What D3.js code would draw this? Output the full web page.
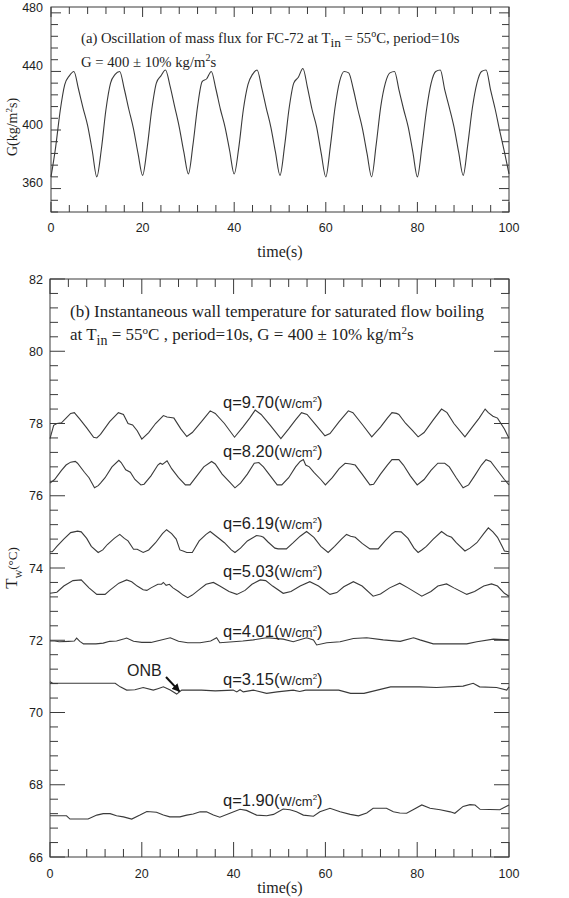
<!DOCTYPE html>
<html>
<head>
<meta charset="utf-8">
<script src="https://cdn.jsdelivr.net/npm/d3@7"></script>
<style>
body { margin: 0; background: #fff; }
text { fill: #1e1e1e; }
.serif { font-family: "Liberation Serif", "Times New Roman", serif; }
.sans { font-family: "Liberation Sans", Arial, sans-serif; }
</style>
</head>
<body>
<div id="chart"></div>
<script>
// ---- data ----
// (a) mass flux, sampled every 1 s
const gTime = d3.range(0, 101);
const gFlux = [
  364, 384, 409, 427, 433, 436, 424, 411, 399, 382,
  364, 383, 410, 428, 434, 436, 424, 410, 397, 380,
  365, 384, 410, 428, 433, 437, 426, 412, 398, 381,
  366, 386, 412, 429, 431, 436, 424, 410, 398, 382,
  366, 384, 410, 427, 434, 437, 425, 411, 398, 381,
  365, 385, 411, 428, 432, 438, 425, 410, 398, 380,
  364, 385, 411, 429, 436, 435, 424, 410, 397, 380,
  364, 386, 412, 428, 435, 436, 423, 410, 398, 381,
  364, 385, 410, 428, 436, 437, 423, 411, 398, 381,
  365, 386, 411, 428, 436, 437, 423, 410, 395, 381,
  366
];

// (b) wall temperature, [time s, Tw °C]
const q970 = [[0,77.58],[0.8,77.95],[1.5,78.0],[2.5,78.02],[3.5,78.15],[4.5,78.28],[5.3,78.3],[6.5,78.12],[8,77.88],[9.5,77.62],[10.2,77.6],[11,77.7],[13,78.05],[14.9,78.3],[16,78.25],[17,78.0],[18,77.96],[19,77.8],[20,77.57],[21.5,77.75],[23,78.0],[24.7,78.22],[25.5,78.18],[27,78.15],[28.5,77.85],[29.8,77.64],[31,77.75],[33,78.05],[34.9,78.35],[36,78.28],[38,78.0],[40.2,77.62],[42,77.9],[43.5,78.15],[44.7,78.37],[46,78.25],[48,77.95],[50.3,77.58],[52,77.85],[53.5,78.1],[54.8,78.3],[56,78.25],[58,77.95],[59.9,77.66],[61,77.72],[63,78.05],[65,78.35],[66,78.3],[68,77.98],[70.1,77.63],[72,77.9],[73.5,78.15],[74.5,78.3],[75.5,78.28],[76,78.25],[77.5,78.0],[79,77.8],[80.2,77.63],[81.5,77.75],[83.5,78.1],[85.3,78.4],[86.5,78.3],[88,78.0],[90.4,77.63],[92,77.9],[93.5,78.15],[94.8,78.4],[95.5,78.3],[96.5,78.2],[97.5,78.15],[99,77.85],[100,77.59]];
const q820 = [[0,76.35],[1,76.45],[2.5,76.7],[3.5,76.85],[4.5,76.93],[5.5,76.95],[6,76.9],[7.5,76.65],[8.5,76.5],[9.7,76.22],[10.5,76.28],[11,76.35],[12,76.5],[13.5,76.8],[15,76.98],[15.5,76.92],[16.5,76.72],[17.5,76.65],[18.5,76.45],[19.8,76.3],[20.5,76.32],[22,76.55],[23.5,76.85],[24,76.9],[24.5,76.87],[25.5,76.97],[26.5,76.75],[28,76.5],[29.5,76.3],[30.5,76.3],[32,76.55],[33.5,76.8],[35.2,76.95],[36,76.88],[37.5,76.6],[39,76.4],[40.3,76.22],[41.5,76.35],[43,76.6],[44.5,76.9],[45.5,76.92],[46.5,76.8],[48,76.55],[49.5,76.3],[50.5,76.3],[52,76.5],[53.5,76.8],[54.5,76.95],[55.2,77.0],[55.7,76.85],[56.5,76.8],[57.5,76.65],[59,76.45],[60,76.3],[61.5,76.5],[63,76.75],[64.3,76.9],[65.5,76.88],[66.5,76.85],[68,76.6],[69.7,76.3],[70.5,76.32],[72,76.6],[73.5,76.85],[74.5,77.0],[76,77.0],[77,76.85],[78.5,76.55],[80,76.3],[81.5,76.45],[83,76.7],[84.5,76.9],[86,76.9],[87,76.8],[88.5,76.5],[90,76.22],[91.2,76.3],[92.5,76.55],[94,76.85],[95,77.0],[96,76.95],[97.5,76.7],[99,76.45],[100,76.3]];
const q619 = [[0,74.45],[0.5,74.45],[1.5,74.6],[3,74.8],[4.5,74.98],[6,75.02],[6.8,75.0],[8,74.82],[9,74.6],[10.5,74.43],[11.5,74.5],[12.5,74.65],[14,74.82],[15.2,74.93],[16.2,74.82],[17,74.75],[18.2,74.52],[19,74.52],[20.3,74.43],[21.5,74.5],[23,74.7],[24.5,74.95],[25.4,75.06],[26.5,74.95],[27.5,74.8],[28.3,74.5],[29,74.47],[29.8,74.43],[31,74.43],[32.5,74.75],[34,74.93],[34.9,75.01],[36.5,74.85],[38,74.7],[39.5,74.5],[40.3,74.43],[41.5,74.55],[43,74.75],[45,74.9],[46,74.88],[46.5,74.85],[47.5,74.72],[49,74.55],[49.7,74.53],[51.5,74.53],[53,74.7],[54.5,74.88],[55.9,75.01],[57.5,74.85],[59,74.6],[60.6,74.43],[62,74.6],[63.5,74.8],[64.6,74.93],[65.5,74.88],[66.5,74.85],[68,74.68],[69.7,74.53],[71.5,74.53],[73,74.75],[74.5,74.95],[75.2,75.01],[76.5,75.0],[78,74.82],[79.3,74.55],[80.2,74.43],[81,74.5],[82,74.6],[83.5,74.8],[85.3,75.01],[86.5,74.9],[87.5,74.85],[88.5,74.7],[90.4,74.47],[91.5,74.55],[93,74.7],[94.5,74.95],[95.5,75.11],[96.5,75.0],[97.5,74.85],[98.5,74.6],[99,74.47],[100,74.45]];
const q503 = [[0,73.3],[1.5,73.33],[3,73.5],[5,73.65],[6.8,73.67],[8.5,73.45],[10.2,73.27],[12,73.27],[13,73.38],[15,73.58],[16.7,73.67],[17.8,73.62],[19,73.5],[20.3,73.4],[21.1,73.38],[22,73.45],[23.5,73.55],[24.3,73.55],[24.7,73.6],[25.3,73.52],[26,73.55],[26.8,73.45],[28,73.35],[29,73.25],[30,73.18],[31,73.25],[32.5,73.4],[34,73.55],[35.6,73.6],[37,73.5],[39,73.35],[40.7,73.27],[42.5,73.38],[44,73.55],[45.8,73.67],[47,73.65],[48.5,73.5],[50.8,73.3],[52.5,73.35],[54.5,73.5],[56.6,73.62],[58.5,73.5],[61,73.27],[62.5,73.32],[64,73.48],[66.1,73.62],[68,73.5],[70.4,73.22],[72,73.28],[74,73.45],[76.2,73.58],[78,73.45],[81,73.22],[83,73.35],[84.5,73.5],[86.4,73.56],[88,73.45],[90.8,73.27],[92.5,73.35],[94.5,73.5],[96.2,73.56],[97.5,73.5],[99,73.3],[100,73.22]];
const q401 = [[0,71.98],[1,71.98],[2,71.96],[4,71.97],[5.3,71.98],[5.8,72.06],[6.5,71.97],[7.3,71.9],[10,71.9],[11.6,71.92],[13,71.97],[14.5,71.98],[16.2,72.04],[16.7,72.06],[18.2,71.97],[20,71.94],[22,71.94],[24,72.0],[26.2,72.07],[28,71.97],[30,71.93],[32.7,71.93],[35,71.98],[35.6,72.02],[36.3,72.07],[37,71.93],[39.9,71.96],[42,71.98],[44.3,72.01],[47.2,72.07],[50.8,72.03],[53,71.96],[55.9,72.07],[57.4,72.01],[58.1,71.87],[60.3,71.93],[63.2,71.96],[66.1,72.05],[69,72.07],[72.6,72.01],[76.3,71.97],[79.2,72.07],[80.6,72.01],[83.5,71.9],[90.8,71.9],[93,71.96],[96.6,72.03],[100,72.01]];
const q315 = [[0,70.85],[0.6,70.81],[14.2,70.81],[15.3,70.71],[16.7,70.62],[18.5,70.63],[20.3,70.69],[22.5,70.62],[23.5,70.66],[24.7,70.71],[26.2,70.62],[27.6,70.51],[28.7,70.62],[33,70.62],[36,70.6],[39.9,70.62],[40.7,70.57],[41.4,70.63],[42.1,70.57],[44.3,70.62],[47.2,70.53],[49.5,70.57],[53,70.62],[54.4,70.58],[55.7,70.62],[62.9,70.62],[65.5,70.53],[68.4,70.53],[71.3,70.62],[74.2,70.71],[80.6,70.71],[84.2,70.69],[90,70.73],[92.2,70.81],[93.6,70.71],[97.3,70.69],[99.5,70.62],[100,70.71]];
const q190 = [[0,67.14],[3.6,67.14],[4.35,67.05],[8.3,67.05],[10.2,67.16],[11.6,67.2],[13.1,67.2],[14.5,67.14],[16,67.11],[17.8,67.05],[19.6,67.16],[21.1,67.26],[23.2,67.24],[24.7,67.16],[26.1,67.11],[28.3,67.11],[29.8,67.16],[31.2,67.19],[32.7,67.25],[34.1,67.25],[35.6,67.16],[37,67.1],[39.2,67.21],[41.4,67.32],[42.8,67.29],[45,67.16],[47.2,67.14],[48.7,67.18],[50.8,67.33],[52.3,67.31],[53.7,67.25],[55.2,67.16],[57.4,67.13],[58.8,67.25],[61,67.35],[63.2,67.25],[65.4,67.18],[67.2,67.14],[69,67.22],[70.4,67.35],[73.3,67.35],[74.8,67.25],[76.2,67.22],[77.7,67.21],[79.1,67.31],[81,67.44],[82.8,67.35],[85,67.31],[87.2,67.25],[88.2,67.21],[90,67.4],[91.5,67.45],[92.6,67.44],[93.7,67.32],[98,67.31],[100,67.44]];

const twSeries = [q970, q820, q619, q503, q401, q315, q190];
const qLabels = ["9.70", "8.20", "6.19", "5.03", "4.01", "3.15", "1.90"];
const qLabelAt = [78.43, 77.07, 75.08, 73.75, 72.09, 70.76, 67.41]; // label baseline, in °C

const gTicks = [360, 400, 440, 480];
const twTicks = [66, 68, 70, 72, 74, 76, 78, 80, 82];
const timeTicks = [0, 20, 40, 60, 80, 100];

// ---- layout ----
const W = 569, H = 898;
const svg = d3.select("#chart").append("svg").attr("width", W).attr("height", H);

const xA = d3.scaleLinear().domain([0, 100]).range([51, 509]);
const yA = d3.scaleLinear().domain([340, 480]).range([212, 7]);
const xB = d3.scaleLinear().domain([0, 100]).range([50, 509]);
const yB = d3.scaleLinear().domain([66, 82]).range([857, 279]);

const ink = "#3a3a3a";

// frame with inward ticks on all four sides
function frame(x, y, xMinor, yMinor, xMajorEvery, yMajorEvery, minorLen, majorLen) {
  const g = svg.append("g").attr("stroke", ink).attr("stroke-width", 1);
  const [x0, x1] = x.range(), [y0, y1] = y.range();
  g.append("rect").attr("x", x0).attr("y", y1).attr("width", x1 - x0).attr("height", y0 - y1)
    .attr("fill", "none");
  xMinor.forEach((v, i) => {
    const len = i % xMajorEvery === 0 ? majorLen : minorLen;
    g.append("line").attr("x1", x(v)).attr("x2", x(v)).attr("y1", y0).attr("y2", y0 - len);
    g.append("line").attr("x1", x(v)).attr("x2", x(v)).attr("y1", y1).attr("y2", y1 + len);
  });
  yMinor.forEach((v, i) => {
    const len = i % yMajorEvery === 0 ? majorLen : minorLen;
    g.append("line").attr("y1", y(v)).attr("y2", y(v)).attr("x1", x0).attr("x2", x0 + len);
    g.append("line").attr("y1", y(v)).attr("y2", y(v)).attr("x1", x1).attr("x2", x1 - len);
  });
}

// text with sub / superscript pieces: [string, "sub"|"sup"|null, size]
function rich(sel, x, y, size, parts) {
  const t = sel.append("text").attr("x", x).attr("y", y).attr("font-size", size);
  let shift = 0;
  parts.forEach(([s, k, fs]) => {
    const target = k === "sub" ? size * 0.3 : k === "sup" ? -size * 0.38 : 0;
    t.append("tspan").attr("dy", target - shift).attr("font-size", fs || size).text(s);
    shift = target;
  });
  return t;
}

// ---- panel (a) ----
frame(xA, yA, d3.range(0, 101, 4), d3.range(340, 481, 8).reverse(), 5, 5, 7, 10);

svg.append("g").attr("class", "sans").attr("font-size", 12.5)
  .selectAll("text.xa").data(timeTicks).join("text")
  .attr("x", d => xA(d)).attr("y", 232).attr("text-anchor", "middle").text(d => d);
svg.append("g").attr("class", "sans").attr("font-size", 12.5)
  .selectAll("text.ya").data(gTicks).join("text")
  .attr("x", 43).attr("y", d => yA(d) + 4.5).attr("text-anchor", "end").text(d => d);

svg.append("path")
  .datum(gTime.map((t, i) => [t, gFlux[i]]))
  .attr("fill", "none").attr("stroke", ink).attr("stroke-width", 1.1)
  .attr("d", d3.line().curve(d3.curveMonotoneX).x(d => xA(d[0])).y(d => yA(d[1])));

const tA = svg.append("g").attr("class", "serif");
rich(tA, 81, 43, 14.7, [["(a) Oscillation of mass flux for FC-72 at T"], ["in", "sub", 13.5], [" = 55"], ["o", "sup", 10], ["C, period=10s"]]);
rich(tA, 81, 67, 14.7, [["G = 400 \u00b1 10% kg/m"], ["2", "sup", 10], ["s"]]);
tA.append("text").attr("x", 280).attr("y", 257).attr("font-size", 16).attr("text-anchor", "middle").text("time(s)");
const gl = tA.append("g").attr("transform", "translate(17,127) rotate(-90)");
rich(gl, 0, 0, 14, [["G(kg/m"], ["2", "sup", 9], ["s)"]]).attr("text-anchor", "middle");

// ---- panel (b) ----
frame(xB, yB, d3.range(0, 101, 4), d3.range(0, 41).map(i => 82 - i * 0.4), 5, 5, 8, 15);

svg.append("g").attr("class", "sans").attr("font-size", 12.5)
  .selectAll("text.xb").data(timeTicks).join("text")
  .attr("x", d => xB(d)).attr("y", 878).attr("text-anchor", "middle").text(d => d);
svg.append("g").attr("class", "sans").attr("font-size", 12.5)
  .selectAll("text.yb").data(twTicks).join("text")
  .attr("x", 43).attr("y", d => yB(d) + 4.5).attr("text-anchor", "end").text(d => d);

const lineB = d3.line().x(d => xB(d[0])).y(d => yB(d[1]));
svg.append("g").selectAll("path").data(twSeries).join("path")
  .attr("fill", "none").attr("stroke", ink).attr("stroke-width", 1.1).attr("d", lineB);

const lab = svg.append("g").attr("class", "sans");
qLabels.forEach((q, i) => {
  rich(lab, 223, yB(qLabelAt[i]), 16.5, [["q=" + q + "("], ["W/cm", null, 13], ["2", "sup", 8], [")", null, 16.5]]);
});

// ONB marker
lab.append("text").attr("x", 127).attr("y", 676).attr("font-size", 16).text("ONB");
svg.append("defs").append("marker").attr("id", "head").attr("viewBox", "0 0 10 10")
  .attr("refX", 9).attr("refY", 5).attr("markerWidth", 4).attr("markerHeight", 4).attr("orient", "auto")
  .append("path").attr("d", "M0,0L10,5L0,10z").attr("fill", "#111");
svg.append("line").attr("x1", 166).attr("y1", 677).attr("x2", xB(28.2)).attr("y2", yB(70.53) - 2)
  .attr("stroke", "#111").attr("stroke-width", 2).attr("marker-end", "url(#head)");

const tB = svg.append("g").attr("class", "serif");
rich(tB, 70, 317, 17, [["(b) Instantaneous wall temperature for saturated flow boiling"]]);
rich(tB, 70, 340, 17, [["at T"], ["in", "sub", 14], [" = 55"], ["o", "sup", 11], ["C , period=10s, G = 400 \u00b1 10% kg/m"], ["2", "sup", 11], ["s"]]);
tB.append("text").attr("x", 280).attr("y", 893).attr("font-size", 16).attr("text-anchor", "middle").text("time(s)");
const tl = tB.append("g").attr("transform", "translate(17,568) rotate(-90)");
rich(tl, 0, 0, 17, [["T"], ["W", "sub", 9], ["(\u00b0C)", null, 13]]).attr("text-anchor", "middle");
</script>
</body>
</html>
